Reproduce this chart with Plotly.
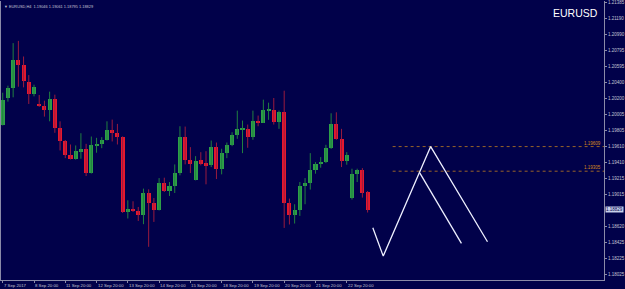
import plotly.graph_objects as go

# ---- data (EURUSD H4) ----
opens = [1.19881, 1.20204, 1.20336, 1.20680, 1.20619, 1.20410, 1.20254, 1.20139, 1.20111, 1.20062,
         1.20201, 1.19840, 1.19684, 1.19500, 1.19454, 1.19540, 1.19573, 1.19282, 1.19610, 1.19647,
         1.19690, 1.19819, 1.19779, 1.19725, 1.18802, 1.18844, 1.18814, 1.18770, 1.19032, 1.18913,
         1.18823, 1.19164, 1.19065, 1.19118, 1.19282, 1.19733, 1.19438, 1.19196, 1.19438, 1.19401,
         1.19380, 1.19598, 1.19331, 1.19533, 1.19631, 1.19746, 1.19820, 1.19832, 1.19725, 1.19930,
         1.19902, 1.20052, 1.20065, 1.19909, 1.20032, 1.18913, 1.18762, 1.18823, 1.19127, 1.19155,
         1.19315, 1.19397, 1.19417, 1.19586, 1.19893, 1.19700, 1.19429, 1.18971, 1.19274, 1.19324,
         1.19046]
highs = [1.20274, 1.20361, 1.20886, 1.20914, 1.20721, 1.20492, 1.20373, 1.20246, 1.20176, 1.20287,
         1.20250, 1.19921, 1.19690, 1.19635, 1.19623, 1.19774, 1.19643, 1.19733, 1.19717, 1.19725,
         1.19921, 1.19942, 1.19889, 1.19735, 1.18946, 1.18934, 1.18864, 1.19090, 1.19081, 1.18974,
         1.19220, 1.19225, 1.19171, 1.19389, 1.19860, 1.19856, 1.19602, 1.19491, 1.19540, 1.19552,
         1.19684, 1.19659, 1.19582, 1.19659, 1.19786, 1.20053, 1.19930, 1.19881, 1.20053, 1.19992,
         1.20188, 1.20151, 1.20209, 1.20053, 1.20299, 1.18967, 1.18897, 1.19171, 1.19220, 1.19528,
         1.19417, 1.19479, 1.19631, 1.20020, 1.20032, 1.19828, 1.19540, 1.19336, 1.19336, 1.19343,
         1.19061]
lows = [1.19869, 1.20164, 1.20217, 1.20348, 1.20340, 1.20135, 1.20229, 1.20099, 1.19979, 1.19921,
        1.19779, 1.19561, 1.19466, 1.19450, 1.19448, 1.19459, 1.19245, 1.19276, 1.19533, 1.19589,
        1.19684, 1.19672, 1.19635, 1.18790, 1.18721, 1.18802, 1.18691, 1.18651, 1.18372, 1.18679,
        1.18820, 1.19048, 1.18999, 1.19036, 1.19254, 1.19389, 1.19282, 1.19192, 1.19377, 1.19143,
        1.19356, 1.19208, 1.19266, 1.19466, 1.19614, 1.19705, 1.19528, 1.19594, 1.19693, 1.19860,
        1.19900, 1.19939, 1.19881, 1.19828, 1.18605, 1.18647, 1.18659, 1.18753, 1.18897, 1.19078,
        1.19274, 1.19348, 1.19405, 1.19580, 1.19693, 1.19356, 1.19385, 1.18955, 1.19171, 1.18979,
        1.18795]
closes = [1.20188, 1.20332, 1.20680, 1.20615, 1.20413, 1.20254, 1.20348, 1.20106, 1.20062, 1.20201,
          1.19835, 1.19684, 1.19500, 1.19454, 1.19549, 1.19573, 1.19282, 1.19623, 1.19647, 1.19693,
          1.19819, 1.19774, 1.19725, 1.18802, 1.18844, 1.18814, 1.18770, 1.19032, 1.18913, 1.18823,
          1.19164, 1.19065, 1.19118, 1.19282, 1.19733, 1.19438, 1.19393, 1.19426, 1.19397, 1.19380,
          1.19598, 1.19331, 1.19533, 1.19631, 1.19746, 1.19832, 1.19832, 1.19725, 1.19930, 1.19902,
          1.20065, 1.20065, 1.19909, 1.20032, 1.18913, 1.18762, 1.18823, 1.19127, 1.19155, 1.19315,
          1.19397, 1.19417, 1.19586, 1.19893, 1.19700, 1.19429, 1.19500, 1.19274, 1.19324, 1.19036,
          1.18829]

xlabel_idx = [0, 6, 12, 18, 24, 30, 36, 42, 48, 54, 60, 66]
xlabel_text = ["7 Sep 2017", "8 Sep 20:00", "11 Sep 20:00", "12 Sep 20:00", "13 Sep 20:00",
               "14 Sep 20:00", "15 Sep 20:00", "18 Sep 20:00", "19 Sep 20:00", "20 Sep 20:00",
               "21 Sep 20:00", "22 Sep 20:00"]
ytick_vals = [1.21385, 1.21190, 1.20990, 1.20795, 1.20595, 1.20400, 1.20200, 1.20005, 1.19805,
              1.19610, 1.19410, 1.19215, 1.19015, 1.18620, 1.18425, 1.18225, 1.18025]

hline_levels = [1.19609, 1.19305]
hline_start = 74.8

# projected zigzag drawing (bar index, price)
zig1_x = [71.0, 73.0, 82.1, 93.0]
zig1_y = [1.18606, 1.18257, 1.19609, 1.18434]
zig2_x = [80.0, 88.0]
zig2_y = [1.19285, 1.18414]

symbol = "EURUSD"
period = "H4"

# ---- style ----
BG = "#01014a"
GREEN = "#2e9f48"
RED = "#e6182e"
GREEN_WICK = "#218040"
RED_WICK = "#9a1b3e"
AXIS = "#8a8aa8"
TXT = "#c4c4d4"

n = len(opens)
idx = list(range(n))
up = [c >= o for o, c in zip(opens, closes)]

fig = go.Figure()

for is_up, wcol, bcol in [(True, GREEN_WICK, GREEN), (False, RED_WICK, RED)]:
    wx, wy = [], []
    bx, bbase, bh = [], [], []
    for i in idx:
        if up[i] != is_up:
            continue
        wx += [i, i, None]
        wy += [lows[i], highs[i], None]
        bx.append(i)
        lo = min(opens[i], closes[i])
        hi = max(opens[i], closes[i])
        bbase.append(lo)
        bh.append(max(hi - lo, 0.00012))
    fig.add_trace(go.Scatter(x=wx, y=wy, mode="lines", line=dict(color=wcol, width=1),
                             hoverinfo="skip", showlegend=False))
    fig.add_trace(go.Bar(x=bx, y=bh, base=bbase, width=0.78, marker=dict(color=bcol, line=dict(width=0)),
                         showlegend=False))

# dotted horizontal levels
for lv in hline_levels:
    fig.add_trace(go.Scatter(x=[hline_start, 115.35], y=[lv, lv], mode="lines",
                             line=dict(color="#9a6428", width=1, dash="dot"),
                             hoverinfo="skip", showlegend=False))
    fig.add_annotation(x=1, xref="paper", y=lv, yref="y", text=f"{lv:.5f}", showarrow=False,
                       xanchor="right", yanchor="bottom", yshift=-1, xshift=-1,
                       font=dict(family="Liberation Sans", size=4.5, color="#d88a1c"))

# zigzag
fig.add_trace(go.Scatter(x=zig1_x, y=zig1_y, mode="lines", line=dict(color="#eef0ff", width=1.3),
                         hoverinfo="skip", showlegend=False))
fig.add_trace(go.Scatter(x=zig2_x, y=zig2_y, mode="lines", line=dict(color="#eef0ff", width=1.3),
                         hoverinfo="skip", showlegend=False))

# x labels (left aligned at bar)
for i, t in zip(xlabel_idx, xlabel_text):
    fig.add_annotation(x=i - 0.2, xref="x", y=0, yref="paper", yanchor="top", xanchor="left",
                       yshift=-1, text=t, showarrow=False,
                       font=dict(family="Liberation Sans", size=4.3, color=TXT))

# current price label
fig.add_annotation(x=1, xref="paper", y=closes[-1], yref="y", xanchor="left", xshift=1,
                   text=f"{closes[-1]:.5f}", showarrow=False, bgcolor="#c8d0ec", borderpad=0,
                   font=dict(family="Liberation Sans", size=4.5, color="#01014a"))

# header text
fig.add_annotation(x=0, xref="paper", y=1, yref="paper", xanchor="left", yanchor="top", xshift=1, yshift=-1,
                   text=f"\u25bc {symbol},{period}  {opens[-1]:.5f} {highs[-1]:.5f} {lows[-1]:.5f} {closes[-1]:.5f}",
                   showarrow=False, font=dict(family="Liberation Sans", size=3.9, color=TXT))
fig.add_annotation(x=1, xref="paper", y=1, yref="paper", xanchor="right", yanchor="top", xshift=-4, yshift=-4,
                   text=symbol, showarrow=False, font=dict(family="Liberation Sans", size=10.5, color="#ffffff"))

fig.update_layout(
    width=625, height=289, margin=dict(l=0, r=20, t=0, b=9),
    paper_bgcolor=BG, plot_bgcolor=BG, barmode="overlay", bargap=0,
    showlegend=False,
)
fig.update_xaxes(range=[-0.33, 115.35], showgrid=False, zeroline=False, showline=True,
                 linecolor=AXIS, linewidth=1, tickvals=xlabel_idx, ticktext=[""] * len(xlabel_idx),
                 ticks="outside", ticklen=2, tickcolor=AXIS)
fig.update_yaxes(range=[1.17962, 1.21406], side="right", showgrid=False, zeroline=False,
                 showline=True, mirror=True, linecolor=AXIS, linewidth=1,
                 tickvals=ytick_vals, ticktext=[f"{v:.5f}" for v in ytick_vals],
                 ticks="outside", ticklen=2, tickcolor=AXIS, ticklabeloverflow="allow",
                 tickfont=dict(family="Liberation Sans", size=4.5, color=TXT))

fig.write_html("out.html")
